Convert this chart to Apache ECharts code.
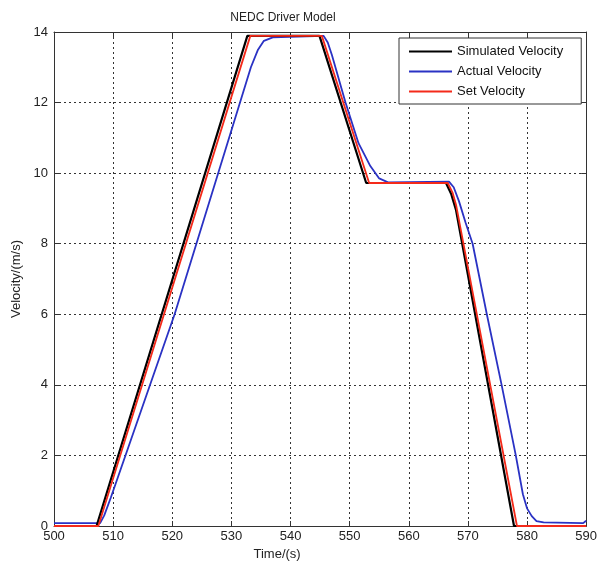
<!DOCTYPE html>
<html>
<head>
<meta charset="utf-8">
<script src="https://cdn.jsdelivr.net/npm/echarts@6/dist/echarts.min.js"></script>
<style>html,body{margin:0;padding:0;background:#fff}#c{width:600px;height:566px}</style>
</head>
<body>
<div id="c"></div>
<script>
const chartTitle = 'NEDC Driver Model';
const xName = 'Time/(s)';
const yName = 'Velocity/(m/s)';
const seriesNames = ['Simulated Velocity', 'Actual Velocity', 'Set Velocity'];
const xTicks = [500, 510, 520, 530, 540, 550, 560, 570, 580, 590];
const yTicks = [0, 2, 4, 6, 8, 10, 12, 14];

// [time, velocity] points
const simulated = [
  [500, 0], [507.2, 0], [532.7, 13.89], [544.9, 13.89], [552.8, 9.72],
  [566.3, 9.72], [567.2, 9.4], [568.0, 8.95], [577.8, 0], [590, 0]
];
const actual = [
  [500, 0.08], [507.8, 0.08], [508.5, 0.3], [509.6, 0.8], [520.4, 6.0],
  [533.3, 13.0], [534.5, 13.5], [535.5, 13.75], [537.0, 13.85], [545.6, 13.89],
  [546.3, 13.7], [547.0, 13.35], [549.3, 12.0], [551.5, 10.85], [553.5, 10.2],
  [555.0, 9.85], [556.5, 9.74], [566.8, 9.76], [567.6, 9.6], [568.5, 9.2],
  [569.6, 8.6], [570.8, 8.0], [573.2, 6.0], [575.7, 4.0], [578.1, 2.0],
  [579.3, 0.9], [580.0, 0.5], [580.8, 0.28], [581.6, 0.14], [582.8, 0.1],
  [589.5, 0.08], [590, 0.15]
];
const setVel = [
  [500, 0], [507.5, 0], [533.2, 13.89], [545.3, 13.89], [553.3, 9.72],
  [566.6, 9.72], [567.4, 9.45], [568.0, 9.1], [578.3, 0], [590, 0]
];

const font = 'Liberation Sans, Arial, sans-serif';
const frameColor = '#333';
const gridLine = { show: true, lineStyle: { color: '#333', type: [2, 3], width: 1 } };

const chart = echarts.init(document.getElementById('c'));
chart.setOption({
  animation: false,
  backgroundColor: '#fff',
  title: {
    text: chartTitle, left: 278, top: 7, textAlign: 'center',
    textStyle: { fontFamily: font, fontSize: 12, fontWeight: 'normal', color: '#222' }
  },
  grid: { left: 54, right: 12, top: 32, bottom: 38 },
  legend: {
    orient: 'vertical', left: 399, top: 38,
    itemWidth: 43, itemHeight: 2, itemGap: 5,
    padding: [6, 18, 5, 10],
    borderColor: '#333', borderWidth: 1, backgroundColor: '#fff',
    textStyle: { fontFamily: font, fontSize: 13, color: '#111', lineHeight: 15, padding: [0, 0, 0, 0] },
    data: seriesNames.map(n => ({ name: n, icon: 'rect' })),
    itemStyle: { borderWidth: 0 }
  },
  xAxis: [{
    type: 'value', min: xTicks[0], max: xTicks[xTicks.length - 1], interval: 10,
    name: xName, nameLocation: 'middle', nameGap: 22,
    nameTextStyle: { fontFamily: font, fontSize: 13, color: '#222', padding: [0, 86, 0, 0] },
    axisLine: { show: true, onZero: false, lineStyle: { color: frameColor, width: 1 } },
    axisTick: { show: true, inside: true, length: 5, lineStyle: { color: frameColor } },
    axisLabel: { fontFamily: font, fontSize: 13, color: '#222', margin: 4 },
    splitLine: gridLine
  }, {
    type: 'value', position: 'top', min: xTicks[0], max: xTicks[xTicks.length - 1], interval: 10,
    axisLine: { show: true, onZero: false, lineStyle: { color: frameColor, width: 1 } },
    axisTick: { show: true, inside: true, length: 5, lineStyle: { color: frameColor } },
    axisLabel: { show: false }, splitLine: { show: false }
  }],
  yAxis: [{
    type: 'value', min: yTicks[0], max: yTicks[yTicks.length - 1], interval: 2,
    name: yName, nameLocation: 'middle', nameGap: 28,
    nameTextStyle: { fontFamily: font, fontSize: 13, color: '#222' },
    axisLine: { show: true, onZero: false, lineStyle: { color: frameColor, width: 1 } },
    axisTick: { show: true, inside: true, length: 5, lineStyle: { color: frameColor } },
    axisLabel: { fontFamily: font, fontSize: 13, color: '#222', margin: 6 },
    splitLine: gridLine
  }, {
    type: 'value', position: 'right', min: yTicks[0], max: yTicks[yTicks.length - 1], interval: 2,
    axisLine: { show: true, onZero: false, lineStyle: { color: frameColor, width: 1 } },
    axisTick: { show: true, inside: true, length: 5, lineStyle: { color: frameColor } },
    axisLabel: { show: false }, splitLine: { show: false }
  }],
  series: [
    { name: seriesNames[0], type: 'line', data: simulated, symbol: 'none', z: 3,
      color: '#000', lineStyle: { color: '#000', width: 2.2 } },
    { name: seriesNames[1], type: 'line', data: actual, symbol: 'none', z: 2,
      color: '#2a32c4', lineStyle: { color: '#2a32c4', width: 1.8 } },
    { name: seriesNames[2], type: 'line', data: setVel, symbol: 'none', z: 4,
      color: '#f42a1a', lineStyle: { color: '#f42a1a', width: 1.8 } }
  ]
});
</script>
</body>
</html>
